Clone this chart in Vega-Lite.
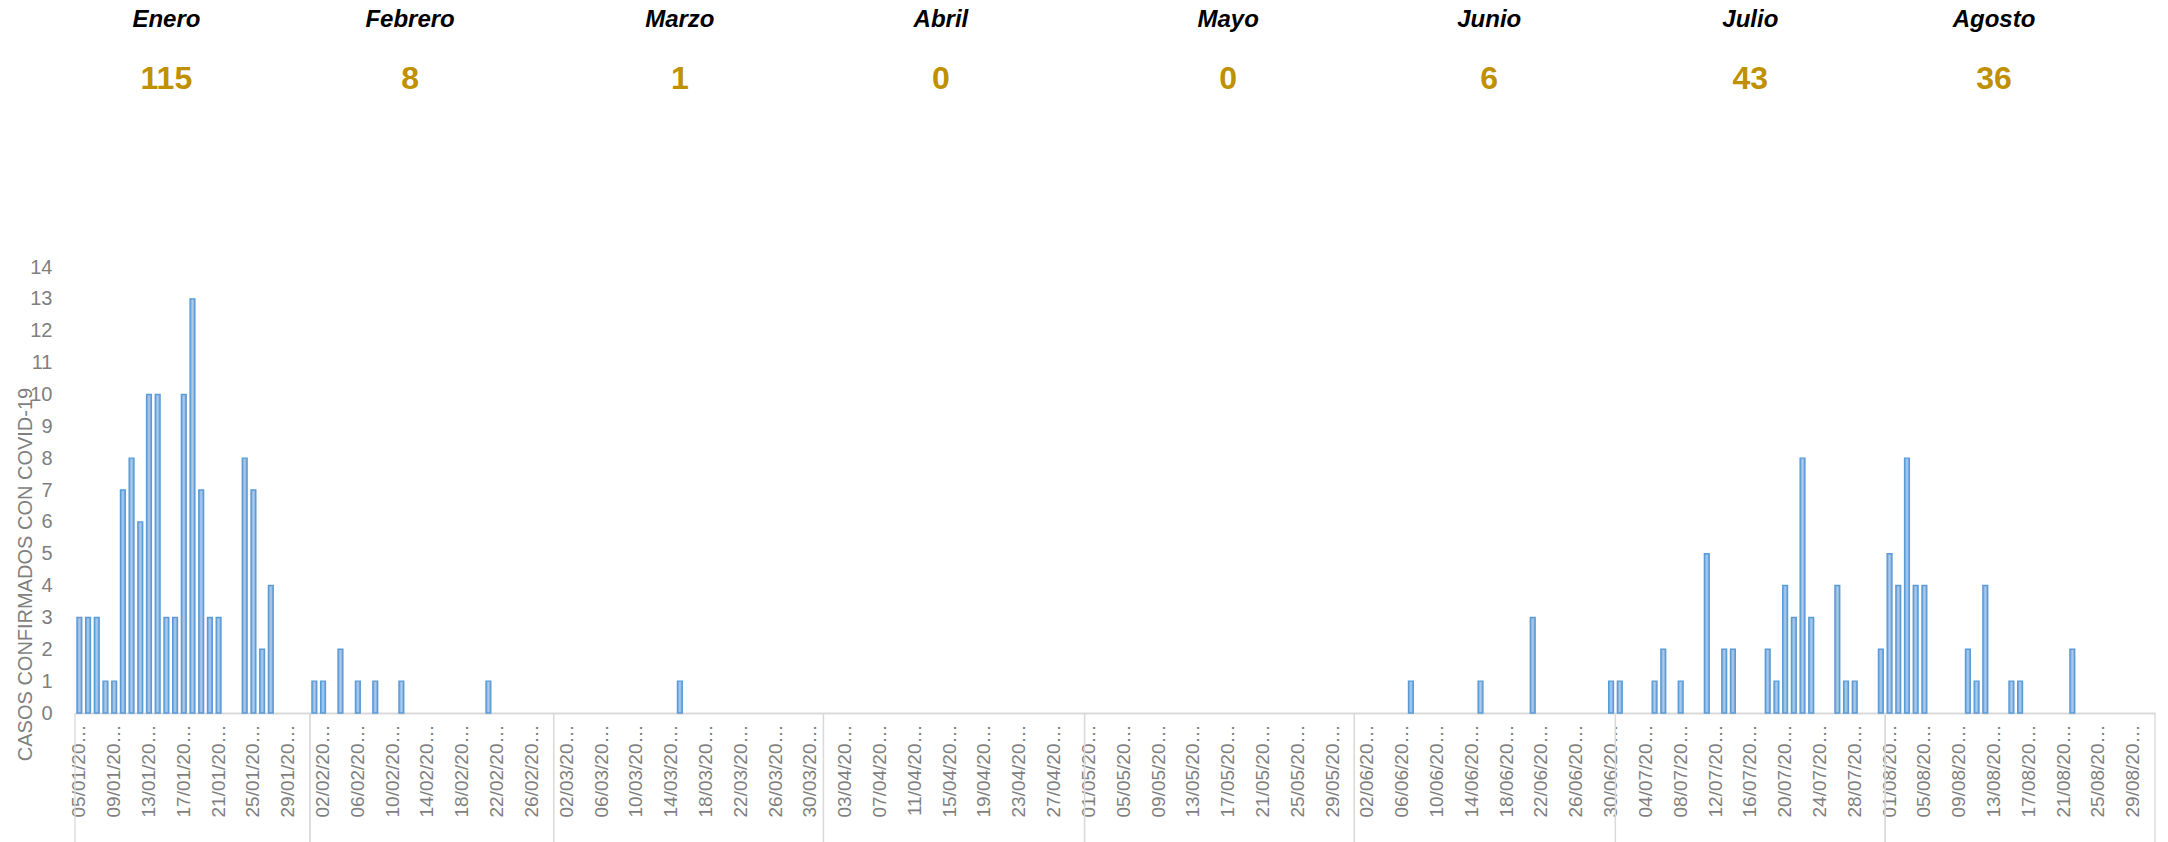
{
  "$schema": "https://vega.github.io/schema/vega-lite/v6.json",
  "width": 2080,
  "height": 446,
  "autosize": "none",
  "padding": {"left": 75, "top": 267, "right": 13, "bottom": 129},
  "background": "white",
  "config": {"view": {"stroke": null}, "axisY": {"labelOverlap": false, "labelSeparation": 0}},
  "resolve": {"scale": {"y": "independent"}, "axis": {"y": "independent"}},
  "datasets": {
    "dias": [
      {"fecha":"05/01/2021","casos":3},{"fecha":"06/01/2021","casos":3},{"fecha":"07/01/2021","casos":3},{"fecha":"08/01/2021","casos":1},{"fecha":"09/01/2021","casos":1},{"fecha":"10/01/2021","casos":7},{"fecha":"11/01/2021","casos":8},{"fecha":"12/01/2021","casos":6},{"fecha":"13/01/2021","casos":10},{"fecha":"14/01/2021","casos":10},{"fecha":"15/01/2021","casos":3},{"fecha":"16/01/2021","casos":3},{"fecha":"17/01/2021","casos":10},{"fecha":"18/01/2021","casos":13},{"fecha":"19/01/2021","casos":7},{"fecha":"20/01/2021","casos":3},{"fecha":"21/01/2021","casos":3},{"fecha":"22/01/2021","casos":0},{"fecha":"23/01/2021","casos":0},{"fecha":"24/01/2021","casos":8},{"fecha":"25/01/2021","casos":7},{"fecha":"26/01/2021","casos":2},{"fecha":"27/01/2021","casos":4},{"fecha":"28/01/2021","casos":0},{"fecha":"29/01/2021","casos":0},{"fecha":"30/01/2021","casos":0},{"fecha":"31/01/2021","casos":0},
      {"fecha":"01/02/2021","casos":1},{"fecha":"02/02/2021","casos":1},{"fecha":"03/02/2021","casos":0},{"fecha":"04/02/2021","casos":2},{"fecha":"05/02/2021","casos":0},{"fecha":"06/02/2021","casos":1},{"fecha":"07/02/2021","casos":0},{"fecha":"08/02/2021","casos":1},{"fecha":"09/02/2021","casos":0},{"fecha":"10/02/2021","casos":0},{"fecha":"11/02/2021","casos":1},{"fecha":"12/02/2021","casos":0},{"fecha":"13/02/2021","casos":0},{"fecha":"14/02/2021","casos":0},{"fecha":"15/02/2021","casos":0},{"fecha":"16/02/2021","casos":0},{"fecha":"17/02/2021","casos":0},{"fecha":"18/02/2021","casos":0},{"fecha":"19/02/2021","casos":0},{"fecha":"20/02/2021","casos":0},{"fecha":"21/02/2021","casos":1},{"fecha":"22/02/2021","casos":0},{"fecha":"23/02/2021","casos":0},{"fecha":"24/02/2021","casos":0},{"fecha":"25/02/2021","casos":0},{"fecha":"26/02/2021","casos":0},{"fecha":"27/02/2021","casos":0},{"fecha":"28/02/2021","casos":0},
      {"fecha":"01/03/2021","casos":0},{"fecha":"02/03/2021","casos":0},{"fecha":"03/03/2021","casos":0},{"fecha":"04/03/2021","casos":0},{"fecha":"05/03/2021","casos":0},{"fecha":"06/03/2021","casos":0},{"fecha":"07/03/2021","casos":0},{"fecha":"08/03/2021","casos":0},{"fecha":"09/03/2021","casos":0},{"fecha":"10/03/2021","casos":0},{"fecha":"11/03/2021","casos":0},{"fecha":"12/03/2021","casos":0},{"fecha":"13/03/2021","casos":0},{"fecha":"14/03/2021","casos":0},{"fecha":"15/03/2021","casos":1},{"fecha":"16/03/2021","casos":0},{"fecha":"17/03/2021","casos":0},{"fecha":"18/03/2021","casos":0},{"fecha":"19/03/2021","casos":0},{"fecha":"20/03/2021","casos":0},{"fecha":"21/03/2021","casos":0},{"fecha":"22/03/2021","casos":0},{"fecha":"23/03/2021","casos":0},{"fecha":"24/03/2021","casos":0},{"fecha":"25/03/2021","casos":0},{"fecha":"26/03/2021","casos":0},{"fecha":"27/03/2021","casos":0},{"fecha":"28/03/2021","casos":0},{"fecha":"29/03/2021","casos":0},{"fecha":"30/03/2021","casos":0},{"fecha":"31/03/2021","casos":0},
      {"fecha":"01/04/2021","casos":0},{"fecha":"02/04/2021","casos":0},{"fecha":"03/04/2021","casos":0},{"fecha":"04/04/2021","casos":0},{"fecha":"05/04/2021","casos":0},{"fecha":"06/04/2021","casos":0},{"fecha":"07/04/2021","casos":0},{"fecha":"08/04/2021","casos":0},{"fecha":"09/04/2021","casos":0},{"fecha":"10/04/2021","casos":0},{"fecha":"11/04/2021","casos":0},{"fecha":"12/04/2021","casos":0},{"fecha":"13/04/2021","casos":0},{"fecha":"14/04/2021","casos":0},{"fecha":"15/04/2021","casos":0},{"fecha":"16/04/2021","casos":0},{"fecha":"17/04/2021","casos":0},{"fecha":"18/04/2021","casos":0},{"fecha":"19/04/2021","casos":0},{"fecha":"20/04/2021","casos":0},{"fecha":"21/04/2021","casos":0},{"fecha":"22/04/2021","casos":0},{"fecha":"23/04/2021","casos":0},{"fecha":"24/04/2021","casos":0},{"fecha":"25/04/2021","casos":0},{"fecha":"26/04/2021","casos":0},{"fecha":"27/04/2021","casos":0},{"fecha":"28/04/2021","casos":0},{"fecha":"29/04/2021","casos":0},{"fecha":"30/04/2021","casos":0},
      {"fecha":"01/05/2021","casos":0},{"fecha":"02/05/2021","casos":0},{"fecha":"03/05/2021","casos":0},{"fecha":"04/05/2021","casos":0},{"fecha":"05/05/2021","casos":0},{"fecha":"06/05/2021","casos":0},{"fecha":"07/05/2021","casos":0},{"fecha":"08/05/2021","casos":0},{"fecha":"09/05/2021","casos":0},{"fecha":"10/05/2021","casos":0},{"fecha":"11/05/2021","casos":0},{"fecha":"12/05/2021","casos":0},{"fecha":"13/05/2021","casos":0},{"fecha":"14/05/2021","casos":0},{"fecha":"15/05/2021","casos":0},{"fecha":"16/05/2021","casos":0},{"fecha":"17/05/2021","casos":0},{"fecha":"18/05/2021","casos":0},{"fecha":"19/05/2021","casos":0},{"fecha":"20/05/2021","casos":0},{"fecha":"21/05/2021","casos":0},{"fecha":"22/05/2021","casos":0},{"fecha":"23/05/2021","casos":0},{"fecha":"24/05/2021","casos":0},{"fecha":"25/05/2021","casos":0},{"fecha":"26/05/2021","casos":0},{"fecha":"27/05/2021","casos":0},{"fecha":"28/05/2021","casos":0},{"fecha":"29/05/2021","casos":0},{"fecha":"30/05/2021","casos":0},{"fecha":"31/05/2021","casos":0},
      {"fecha":"01/06/2021","casos":0},{"fecha":"02/06/2021","casos":0},{"fecha":"03/06/2021","casos":0},{"fecha":"04/06/2021","casos":0},{"fecha":"05/06/2021","casos":0},{"fecha":"06/06/2021","casos":0},{"fecha":"07/06/2021","casos":1},{"fecha":"08/06/2021","casos":0},{"fecha":"09/06/2021","casos":0},{"fecha":"10/06/2021","casos":0},{"fecha":"11/06/2021","casos":0},{"fecha":"12/06/2021","casos":0},{"fecha":"13/06/2021","casos":0},{"fecha":"14/06/2021","casos":0},{"fecha":"15/06/2021","casos":1},{"fecha":"16/06/2021","casos":0},{"fecha":"17/06/2021","casos":0},{"fecha":"18/06/2021","casos":0},{"fecha":"19/06/2021","casos":0},{"fecha":"20/06/2021","casos":0},{"fecha":"21/06/2021","casos":3},{"fecha":"22/06/2021","casos":0},{"fecha":"23/06/2021","casos":0},{"fecha":"24/06/2021","casos":0},{"fecha":"25/06/2021","casos":0},{"fecha":"26/06/2021","casos":0},{"fecha":"27/06/2021","casos":0},{"fecha":"28/06/2021","casos":0},{"fecha":"29/06/2021","casos":0},{"fecha":"30/06/2021","casos":1},
      {"fecha":"01/07/2021","casos":1},{"fecha":"02/07/2021","casos":0},{"fecha":"03/07/2021","casos":0},{"fecha":"04/07/2021","casos":0},{"fecha":"05/07/2021","casos":1},{"fecha":"06/07/2021","casos":2},{"fecha":"07/07/2021","casos":0},{"fecha":"08/07/2021","casos":1},{"fecha":"09/07/2021","casos":0},{"fecha":"10/07/2021","casos":0},{"fecha":"11/07/2021","casos":5},{"fecha":"12/07/2021","casos":0},{"fecha":"13/07/2021","casos":2},{"fecha":"14/07/2021","casos":2},{"fecha":"15/07/2021","casos":0},{"fecha":"16/07/2021","casos":0},{"fecha":"17/07/2021","casos":0},{"fecha":"18/07/2021","casos":2},{"fecha":"19/07/2021","casos":1},{"fecha":"20/07/2021","casos":4},{"fecha":"21/07/2021","casos":3},{"fecha":"22/07/2021","casos":8},{"fecha":"23/07/2021","casos":3},{"fecha":"24/07/2021","casos":0},{"fecha":"25/07/2021","casos":0},{"fecha":"26/07/2021","casos":4},{"fecha":"27/07/2021","casos":1},{"fecha":"28/07/2021","casos":1},{"fecha":"29/07/2021","casos":0},{"fecha":"30/07/2021","casos":0},{"fecha":"31/07/2021","casos":2},
      {"fecha":"01/08/2021","casos":5},{"fecha":"02/08/2021","casos":4},{"fecha":"03/08/2021","casos":8},{"fecha":"04/08/2021","casos":4},{"fecha":"05/08/2021","casos":4},{"fecha":"06/08/2021","casos":0},{"fecha":"07/08/2021","casos":0},{"fecha":"08/08/2021","casos":0},{"fecha":"09/08/2021","casos":0},{"fecha":"10/08/2021","casos":2},{"fecha":"11/08/2021","casos":1},{"fecha":"12/08/2021","casos":4},{"fecha":"13/08/2021","casos":0},{"fecha":"14/08/2021","casos":0},{"fecha":"15/08/2021","casos":1},{"fecha":"16/08/2021","casos":1},{"fecha":"17/08/2021","casos":0},{"fecha":"18/08/2021","casos":0},{"fecha":"19/08/2021","casos":0},{"fecha":"20/08/2021","casos":0},{"fecha":"21/08/2021","casos":0},{"fecha":"22/08/2021","casos":2},{"fecha":"23/08/2021","casos":0},{"fecha":"24/08/2021","casos":0},{"fecha":"25/08/2021","casos":0},{"fecha":"26/08/2021","casos":0},{"fecha":"27/08/2021","casos":0},{"fecha":"28/08/2021","casos":0},{"fecha":"29/08/2021","casos":0},{"fecha":"30/08/2021","casos":0},{"fecha":"31/08/2021","casos":0}
    ],
    "meses": [
      {"mes":"Enero","total":115,"ancla":"15/01/2021","inicio":"05/01/2021","fin":"31/01/2021"},
      {"mes":"Febrero","total":8,"ancla":"12/02/2021","inicio":"01/02/2021","fin":"28/02/2021"},
      {"mes":"Marzo","total":1,"ancla":"15/03/2021","inicio":"01/03/2021","fin":"31/03/2021"},
      {"mes":"Abril","total":0,"ancla":"14/04/2021","inicio":"01/04/2021","fin":"30/04/2021"},
      {"mes":"Mayo","total":0,"ancla":"17/05/2021","inicio":"01/05/2021","fin":"31/05/2021"},
      {"mes":"Junio","total":6,"ancla":"16/06/2021","inicio":"01/06/2021","fin":"30/06/2021"},
      {"mes":"Julio","total":43,"ancla":"16/07/2021","inicio":"01/07/2021","fin":"31/07/2021"},
      {"mes":"Agosto","total":36,"ancla":"13/08/2021","inicio":"01/08/2021","fin":"31/08/2021"}
    ]
  },
  "layer": [
    {
      "data": {"name": "dias"},
      "mark": {
        "type": "bar",
        "fill": {"gradient": "linear", "x1": 0, "y1": 0, "x2": 1, "y2": 0,
                 "stops": [{"offset": 0, "color": "#70a5db"}, {"offset": 0.5, "color": "#aecbec"}, {"offset": 1, "color": "#70a5db"}]},
        "stroke": "#5b9bd5",
        "strokeWidth": 1.4
      },
      "encoding": {
        "x": {
          "field": "fecha", "type": "ordinal", "sort": null,
          "scale": {"paddingInner": 0.45, "paddingOuter": 0.225},
          "axis": {
            "title": null,
            "values": ["05/01/2021","09/01/2021","13/01/2021","17/01/2021","21/01/2021","25/01/2021","29/01/2021","02/02/2021","06/02/2021","10/02/2021","14/02/2021","18/02/2021","22/02/2021","26/02/2021","02/03/2021","06/03/2021","10/03/2021","14/03/2021","18/03/2021","22/03/2021","26/03/2021","30/03/2021","03/04/2021","07/04/2021","11/04/2021","15/04/2021","19/04/2021","23/04/2021","27/04/2021","01/05/2021","05/05/2021","09/05/2021","13/05/2021","17/05/2021","21/05/2021","25/05/2021","29/05/2021","02/06/2021","06/06/2021","10/06/2021","14/06/2021","18/06/2021","22/06/2021","26/06/2021","30/06/2021","04/07/2021","08/07/2021","12/07/2021","16/07/2021","20/07/2021","24/07/2021","28/07/2021","01/08/2021","05/08/2021","09/08/2021","13/08/2021","17/08/2021","21/08/2021","25/08/2021","29/08/2021"],
            "labelExpr": "substring(datum.label, 0, 8) + '…'",
            "labelAngle": -90,
            "labelAlign": "right",
            "labelBaseline": "middle",
            "labelFont": "Liberation Sans",
            "labelFontSize": 19,
            "labelColor": "#7f7f7f",
            "labelPadding": 11,
            "labelOverlap": false,
            "ticks": false,
            "grid": false,
            "domainColor": "#d9d9d9",
            "domainWidth": 2
          }
        },
        "y": {
          "field": "casos", "type": "quantitative",
          "scale": {"domain": [0, 14], "nice": false},
          "axis": {
            "title": "CASOS CONFIRMADOS CON COVID-19",
            "values": [0,1,2,3,4,5,6,7,8,9,10,11,12,13,14],
            "labelOverlap": false,
            "domain": false,
            "ticks": false,
            "grid": false,
            "labelFont": "Liberation Sans",
            "labelFontSize": 20,
            "labelColor": "#7f7f7f",
            "labelPadding": 23,
            "titleFont": "Liberation Sans",
            "titleFontSize": 20,
            "titleFontWeight": "normal",
            "titleColor": "#7f7f7f",
            "titleAngle": -90,
            "titleX": -50,
            "titleY": 307,
            "titleAlign": "center",
            "titleBaseline": "middle"
          }
        },
        "strokeOpacity": {"condition": {"test": "datum.casos == 0", "value": 0}, "value": 1}
      }
    },
    {
      "data": {"name": "meses"},
      "mark": {"type": "rule", "stroke": "#d9d9d9", "strokeWidth": 1.3},
      "encoding": {
        "x": {"field": "inicio", "type": "ordinal", "sort": null, "bandPosition": -0.409},
        "y": {"datum": 0, "type": "quantitative", "scale": {"domain": [0, 14], "nice": false}, "axis": null},
        "y2": {"datum": -5}
      }
    },
    {
      "data": {"name": "meses"},
      "mark": {"type": "rule", "stroke": "#d9d9d9", "strokeWidth": 1.3},
      "encoding": {
        "x": {"field": "fin", "type": "ordinal", "sort": null, "bandPosition": 1.409},
        "y": {"datum": 0, "type": "quantitative", "scale": {"domain": [0, 14], "nice": false}, "axis": null},
        "y2": {"datum": -5}
      }
    },
    {
      "data": {"name": "meses"},
      "mark": {"type": "text", "font": "Liberation Sans", "fontSize": 24, "fontWeight": "bold", "fontStyle": "italic", "color": "#000000", "baseline": "middle", "align": "center"},
      "encoding": {
        "x": {"field": "ancla", "type": "ordinal", "sort": null},
        "y": {"datum": 21.74, "type": "quantitative", "scale": {"domain": [0, 14], "nice": false}, "axis": null},
        "text": {"field": "mes"}
      }
    },
    {
      "data": {"name": "meses"},
      "mark": {"type": "text", "font": "Liberation Sans", "fontSize": 32, "fontWeight": "bold", "color": "#bf9000", "baseline": "middle", "align": "center"},
      "encoding": {
        "x": {"field": "ancla", "type": "ordinal", "sort": null},
        "y": {"datum": 19.91, "type": "quantitative", "scale": {"domain": [0, 14], "nice": false}, "axis": null},
        "text": {"field": "total"}
      }
    }
  ]
}
